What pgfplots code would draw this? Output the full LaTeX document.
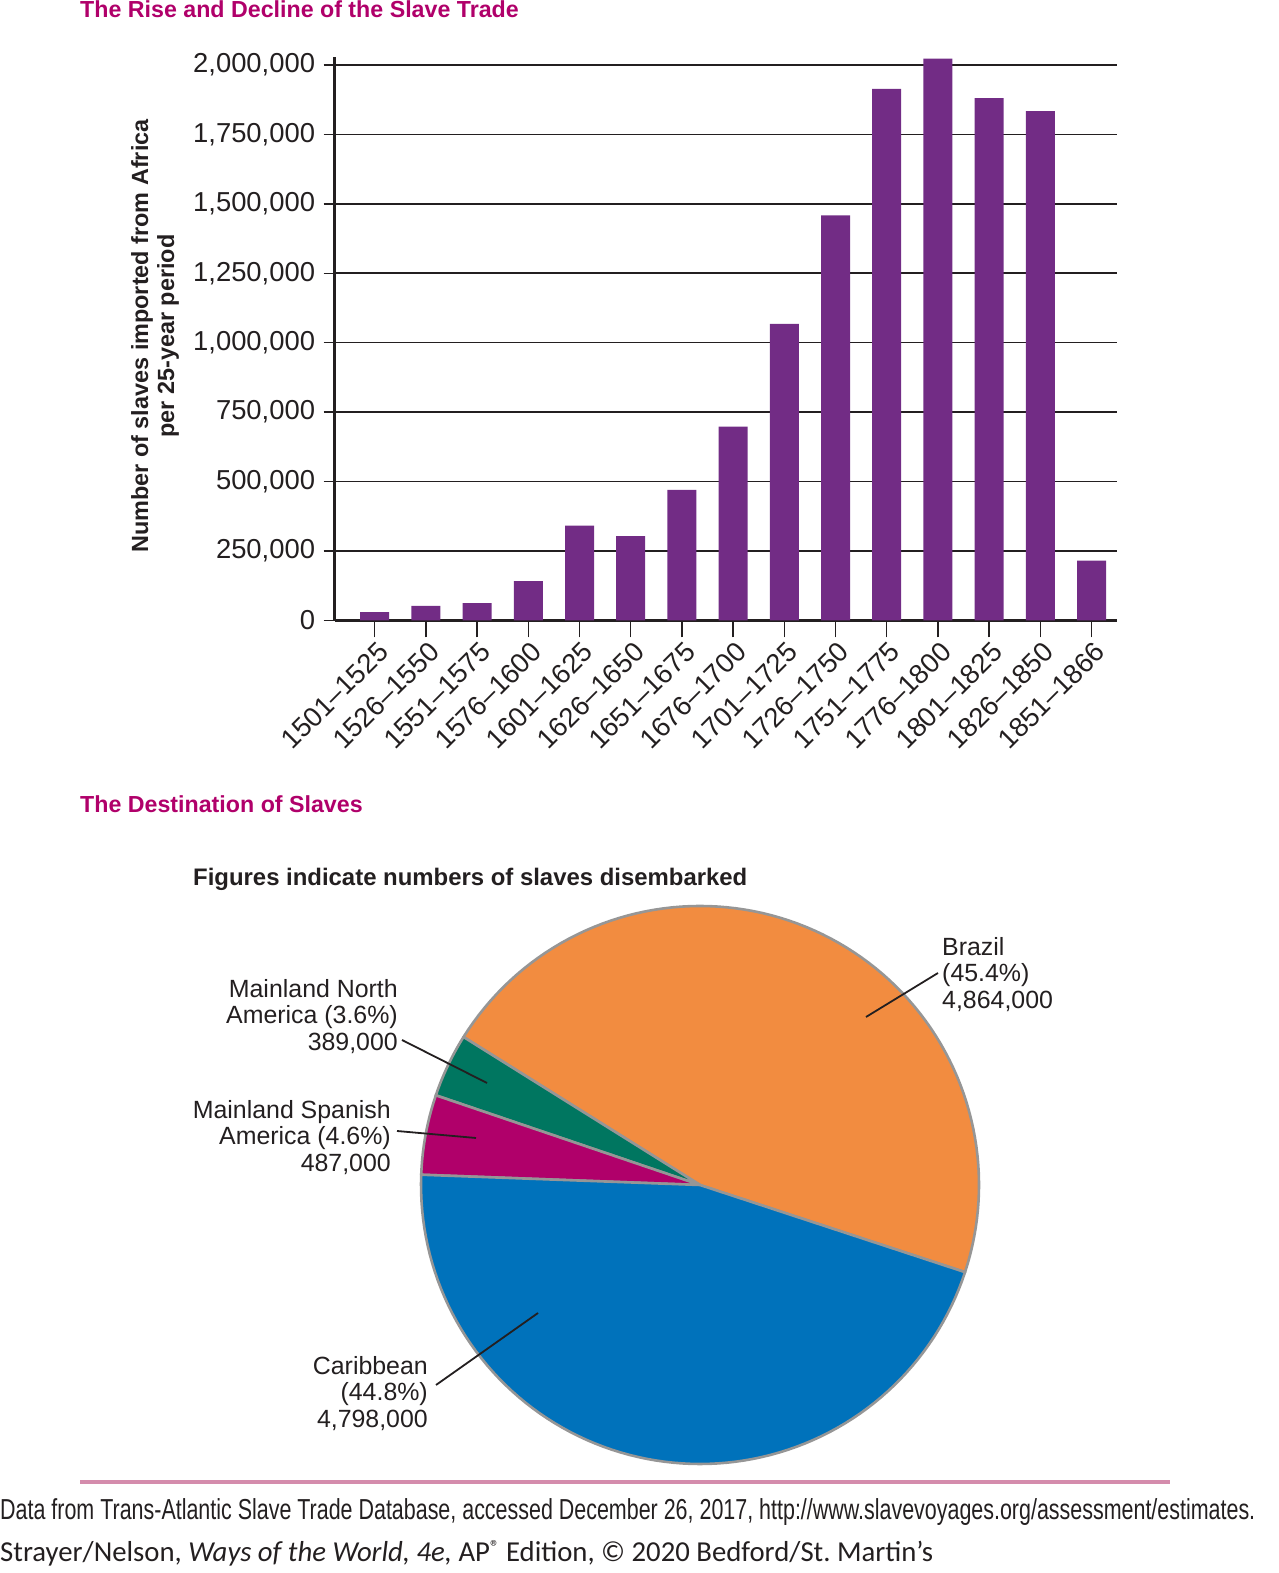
\documentclass[border=0pt]{standalone}
\usepackage{pgfplots}
\pgfplotsset{compat=1.18}
\usepackage{pgfplotstable}
\usepackage{fontspec}
\setmainfont{Liberation Sans}
\newfontfamily\footfont{Carlito}

\definecolor{ink}{RGB}{35,31,32}
\definecolor{tradepurple}{RGB}{114,44,133}
\definecolor{headmagenta}{RGB}{176,0,106}
\definecolor{brazilorange}{RGB}{242,140,64}
\definecolor{nateal}{RGB}{0,118,96}
\definecolor{spanmagenta}{RGB}{176,0,106}
\definecolor{caribblue}{RGB}{0,114,187}
\definecolor{piegray}{RGB}{150,150,150}
\definecolor{footpink}{RGB}{212,140,172}

% slaves imported from Africa per 25-year period
\pgfplotstableread{
idx value
0  29000
1  52000
2  62000
3  141000
4  341000
5  303000
6  470000
7  698000
8  1068000
9  1459000
10 1914000
11 2023000
12 1881000
13 1834000
14 215000
}\tradedata

% slaves disembarked, by destination
\pgfplotstableread{
region value
Brazil                 4864000
MainlandNorthAmerica   389000
MainlandSpanishAmerica 487000
Caribbean              4798000
}\piedata

\pgfplotstablegetelem{0}{value}\of\piedata\edef\vBr{\pgfplotsretval}
\pgfplotstablegetelem{1}{value}\of\piedata\edef\vNA{\pgfplotsretval}
\pgfplotstablegetelem{2}{value}\of\piedata\edef\vSA{\pgfplotsretval}
\pgfplotstablegetelem{3}{value}\of\piedata\edef\vCa{\pgfplotsretval}
\edef\tot{\fpeval{\vBr+\vNA+\vSA+\vCa}}
\def\aStart{-18.2}
\edef\aBr{\fpeval{\aStart+360*\vBr/\tot}}
\edef\aNA{\fpeval{\aBr+360*\vNA/\tot}}
\edef\aSA{\fpeval{\aNA+360*\vSA/\tot}}
\edef\aCa{\fpeval{\aSA+360*\vCa/\tot}}

\newcommand\ticksize{\fontsize{27.5}{29}\selectfont}
\newcommand\piesize{\fontsize{25}{26.7}\selectfont}
\newcommand\headsize{\fontsize{23.3}{25}\selectfont\bfseries}

\begin{document}
\begin{tikzpicture}[x=1bp,y=1bp]
\useasboundingbox (0,0) rectangle (1278,1573);

% ---- headings ----
\node[anchor=base west, inner sep=0, text=headmagenta, font=\headsize]
  at (80,1555) {The Rise and Decline of the Slave Trade};
\node[anchor=base west, inner sep=0, text=headmagenta, font=\headsize]
  at (80,760) {The Destination of Slaves};
\node[anchor=base west, inner sep=0, text=ink,
  font=\fontsize{24}{26}\selectfont\bfseries]
  at (193,687) {Figures indicate numbers of slaves disembarked};

% ---- bar chart ----
\begin{axis}[
  at={(334.5bp,952.7bp)}, anchor=south west,
  scale only axis, width=782.5bp, height=563.5bp,
  xmin=-0.785, xmax=14.498, ymin=0, ymax=2030000,
  axis x line*=bottom, axis y line*=left,
  axis line style={ink, line width=2.6bp, -},
  tick align=outside,
  ybar, bar width=29bp,
  xtick=data,
  xticklabels={1501–1525,1526–1550,1551–1575,1576–1600,1601–1625,1626–1650,1651–1675,1676–1700,1701–1725,1726–1750,1751–1775,1776–1800,1801–1825,1826–1850,1851–1866},
  ytick={0,250000,500000,750000,1000000,1250000,1500000,1750000,2000000},
  yticklabels={0,{250,000},{500,000},{750,000},{1,000,000},{1,250,000},{1,500,000},{1,750,000},{2,000,000}},
  scaled y ticks=false,
  tick label style={font=\ticksize, text=ink},
  xticklabel style={xshift=10bp, yshift=-21bp, rotate=45, anchor=east, inner sep=2bp},
  yticklabel style={xshift=-12bp, inner sep=3bp},
  xtick style={ink, line width=1.5bp, /pgfplots/major tick length=17bp},
  ytick style={ink, line width=1.5bp, /pgfplots/major tick length=11bp},
  ymajorgrids,
  major grid style={ink, line width=1.6bp},
]
\addplot[fill=tradepurple, draw=none] table[x=idx, y=value] {\tradedata};
\end{axis}

\node[rotate=90, align=center, text=ink, inner sep=0,
  font=\fontsize{23.5}{26}\selectfont\bfseries] at (155,1237)
  {Number of slaves imported from Africa\\per 25-year period};

% ---- pie chart ----
\begin{axis}[
  at={(700bp,388bp)}, anchor=center,
  scale only axis, width=558bp, height=558bp,
  xmin=-1, xmax=1, ymin=-1, ymax=1,
  hide axis, clip=false,
]
\addplot[fill=brazilorange, draw=piegray, line width=2.6bp, line join=round,
  domain=\aStart:\aBr, samples=90] ({cos(x)},{sin(x)}) -- (axis cs:0,0) -- cycle;
\addplot[fill=nateal, draw=piegray, line width=2.6bp, line join=round,
  domain=\aBr:\aNA, samples=12] ({cos(x)},{sin(x)}) -- (axis cs:0,0) -- cycle;
\addplot[fill=spanmagenta, draw=piegray, line width=2.6bp, line join=round,
  domain=\aNA:\aSA, samples=12] ({cos(x)},{sin(x)}) -- (axis cs:0,0) -- cycle;
\addplot[fill=caribblue, draw=piegray, line width=2.6bp, line join=round,
  domain=\aSA:\aCa, samples=90] ({cos(x)},{sin(x)}) -- (axis cs:0,0) -- cycle;
\end{axis}

% pie labels and leader lines
\begin{scope}[every node/.style={inner sep=0, text=ink, font=\piesize}]
\node[anchor=north west, align=left] at (942,636) {Brazil\\(45.4\%)\\4,864,000};
\node[anchor=north east, align=right] at (398,594) {Mainland North\\America (3.6\%)\\389,000};
\node[anchor=north east, align=right] at (391,473) {Mainland Spanish\\America (4.6\%)\\487,000};
\node[anchor=north east, align=right] at (428,217) {Caribbean\\(44.8\%)\\4,798,000};
\end{scope}
\begin{scope}[ink, line width=1.8bp]
\draw (866,556) -- (938,600);
\draw (402,533) -- (487,490);
\draw (397,442) -- (476,435);
\draw (436,188) -- (538,260);
\end{scope}

% ---- footer ----
\draw[footpink, line width=4bp] (80,91) -- (1170,91);
\node[anchor=base west, inner sep=0, text=ink] at (0,53)
  {\resizebox{1255bp}{\height}{\fontsize{29}{30}\selectfont Data from Trans-Atlantic Slave Trade Database, accessed December 26, 2017, http://www.slavevoyages.org/assessment/estimates.}};
\node[anchor=base west, inner sep=0, text=ink] at (0,11)
  {\resizebox{933bp}{\height}{\footfont\fontsize{29}{30}\selectfont Strayer/Nelson, \textit{Ways of the World, 4e,} AP\raisebox{0.3em}{\fontsize{19}{19}\selectfont ®} Edition, © 2020 Bedford/St.~Martin’s}};
\end{tikzpicture}
\end{document}
